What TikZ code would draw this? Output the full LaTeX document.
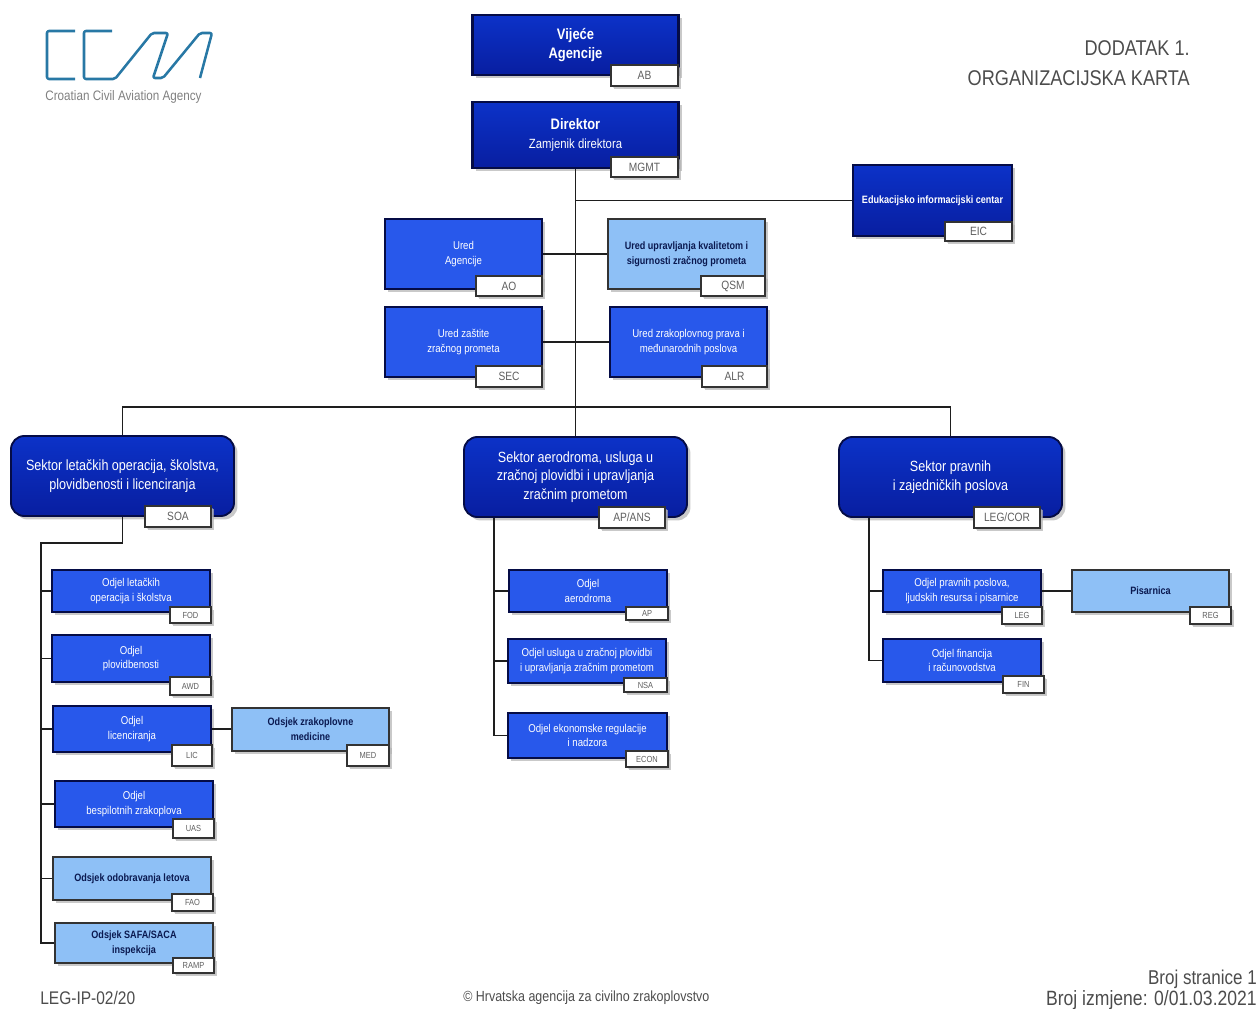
\documentclass[tikz,border=0pt]{standalone}
\usepackage{fontspec}
\setmainfont[FakeStretch=0.85]{Liberation Sans}
\usepackage{xcolor}
\definecolor{navyfill}{RGB}{12, 50, 200}
\definecolor{navydeep}{RGB}{8, 30, 160}
\definecolor{navyline}{RGB}{5, 12, 70}
\definecolor{deptfill}{RGB}{40, 88, 235}
\definecolor{lightfill}{RGB}{142, 192, 246}
\definecolor{lightink}{RGB}{10, 25, 80}
\definecolor{tagink}{RGB}{95, 95, 95}
\definecolor{logoblue}{RGB}{40, 120, 165}
\definecolor{wireink}{RGB}{30, 30, 30}
\usetikzlibrary{positioning, shadows}
\tikzset{boxsize/.style 2 args={minimum width=#1*0.75pt, minimum height=#2*0.75pt}}
\tikzstyle{boxbase} = [rectangle, draw=navyline, line width=1.1pt, inner sep=0pt, align=center, drop shadow={shadow xshift=2.6pt, shadow yshift=-2.6pt, fill=black!30, opacity=0.7}]
\tikzstyle{topblock} = [boxbase, top color=navyfill, bottom color=navydeep, text=white, line width=1.6pt, font=\fontsize{11.4}{14.5}\selectfont]
\tikzstyle{sector} = [boxbase, top color=navyfill, bottom color=navydeep, text=white, rounded corners=10pt, line width=1.4pt, font=\fontsize{11.1}{13.8}\selectfont]
\tikzstyle{office} = [boxbase, fill=deptfill, text=white, font=\fontsize{8.5}{11}\selectfont]
\tikzstyle{lightblock} = [boxbase, fill=lightfill, draw=black!80, text=lightink, font=\bfseries\fontsize{8}{11}\selectfont]
\tikzstyle{tagbox} = [boxbase, fill=white, draw=black!80, text=tagink, line width=0.9pt, drop shadow={shadow xshift=1.2pt, shadow yshift=-1.2pt, fill=black!25}]
\tikzstyle{bigtag} = [tagbox, font=\fontsize{9}{10}\selectfont]
\tikzstyle{smalltag} = [tagbox, font=\fontsize{6.6}{8}\selectfont]
\tikzstyle{wire} = [line width=1.1pt, draw=wireink]
\tikzstyle{pagetext} = [inner sep=0pt, text=black!70]
\begin{document}
\begin{tikzpicture}[x=0.75pt, y=-0.75pt]
    \useasboundingbox (0,0) rectangle (1258,1009);

    % logo
    \draw[logoblue, line width=1.9pt, line join=round, rounded corners=1.5pt] (75,31) -- (47,31) -- (47,79) -- (75,79);
    \draw[logoblue, line width=1.9pt, line join=round, rounded corners=1.5pt] (112,31) -- (84,31) -- (84,79) -- (115,79) -- (152,33) -- (168,33) -- (153,78) -- (163,78) -- (200,33) -- (212,33) -- (200,78);
    \node[pagetext, text=black!50, font=\fontsize{10.3}{12}\selectfont] (agency) at (123.5,97) {Croatian Civil Aviation Agency};

    % page texts
    \node[pagetext, anchor=east, font=\fontsize{16}{18}\selectfont] (annex) at (1190,48) {DODATAK 1.};
    \node[pagetext, anchor=east, font=\fontsize{16}{18}\selectfont] (chart) at (1190,78) {ORGANIZACIJSKA KARTA};
    \node[pagetext, anchor=west, font=\fontsize{13.7}{15}\selectfont] (docref) at (40,998) {LEG-IP-02/20};
    \node[pagetext, anchor=west, font=\fontsize{11}{13}\selectfont] (rights) at (463,998) {© Hrvatska agencija za civilno zrakoplovstvo};
    \node[pagetext, anchor=east, font=\fontsize{15}{17}\selectfont] (pageno) at (1257,979) {Broj stranice 1};
    \node[pagetext, anchor=east, font=\fontsize{15.5}{17}\selectfont] (revno) at (1257,1000) {Broj izmjene: 0/01.03.2021};

    % top of the chart
    \node[topblock, boxsize={206}{60}] (board) at (575.5,45) {\textbf{Vijeće}\\\textbf{Agencije}};
    \node[topblock, boxsize={206}{66}] (mgmt) at (575.5,135) {\textbf{Direktor}\\{\fontsize{10}{13}\selectfont Zamjenik direktora}};
    \node[topblock, boxsize={159}{71}, font=\bfseries\fontsize{8}{10}\selectfont] (eic) at (932.5,200.5) {Edukacijsko informacijski centar};
    \node[office, boxsize={157}{70}] (ao) at (463.5,254) {Ured\\Agencije};
    \node[lightblock, boxsize={157}{70}] (qsm) at (686.5,254) {Ured upravljanja kvalitetom i\\sigurnosti zračnog prometa};
    \node[office, boxsize={157}{70}] (sec) at (463.5,342) {Ured zaštite\\zračnog prometa};
    \node[office, boxsize={157}{70}] (alr) at (688.5,342) {Ured zrakoplovnog prava i\\međunarodnih poslova};

    % sectors
    \node[sector, boxsize={223}{80}] (soa) at (122.5,476) {Sektor letačkih operacija, školstva,\\plovidbenosti i licenciranja};
    \node[sector, boxsize={223}{80}] (apans) at (575.5,477) {Sektor aerodroma, usluga u\\zračnoj plovidbi i upravljanja\\zračnim prometom};
    \node[sector, boxsize={223}{80}] (legcor) at (950.5,477) {Sektor pravnih\\i zajedničkih poslova};

    % first sector
    \node[office, boxsize={158}{42}] (fod) at (131,591) {Odjel letačkih\\operacija i školstva};
    \node[office, boxsize={158}{47}] (awd) at (131,658.5) {Odjel\\plovidbenosti};
    \node[office, boxsize={158}{46}] (lic) at (132,729) {Odjel\\licenciranja};
    \node[lightblock, boxsize={157}{43}] (med) at (310.5,729.5) {Odsjek zrakoplovne\\medicine};
    \node[office, boxsize={158}{46}] (uas) at (134,804) {Odjel\\bespilotnih zrakoplova};
    \node[lightblock, boxsize={158}{43}] (fao) at (132,878.5) {Odsjek odobravanja letova};
    \node[lightblock, boxsize={158}{40}] (ramp) at (134,943) {Odsjek SAFA/SACA\\inspekcija};

    % second sector
    \node[office, boxsize={158}{42}] (ap) at (588,591) {Odjel\\aerodroma};
    \node[office, boxsize={158}{44}] (nsa) at (587,661) {Odjel usluga u zračnoj plovidbi\\i upravljanja zračnim prometom};
    \node[office, boxsize={159}{45}] (econ) at (587.5,735.5) {Odjel ekonomske regulacije\\i nadzora};

    % third sector
    \node[office, boxsize={158}{42}] (leg) at (962,591) {Odjel pravnih poslova,\\ljudskih resursa i pisarnice};
    \node[lightblock, boxsize={157}{42}] (reg) at (1150.5,591) {Pisarnica};
    \node[office, boxsize={158}{43}] (fin) at (962,660.5) {Odjel financija\\i računovodstva};

    % tags
    \node[bigtag, boxsize={67}{21}] (tagboard) at (644.5,75.5) {AB};
    \node[bigtag, boxsize={67}{20}] (tagmgmt) at (644.5,167) {MGMT};
    \node[bigtag, boxsize={67}{19}] (tageic) at (978.5,231.5) {EIC};
    \node[bigtag, boxsize={66}{20}] (tagao) at (509,286) {AO};
    \node[bigtag, boxsize={64}{20}] (tagqsm) at (733,286) {QSM};
    \node[bigtag, boxsize={66}{21}] (tagsec) at (509,376.5) {SEC};
    \node[bigtag, boxsize={65}{21}] (tagalr) at (734.5,376.5) {ALR};
    \node[bigtag, boxsize={66}{21}] (tagsoa) at (178,516.5) {SOA};
    \node[bigtag, boxsize={66}{21}] (tagapans) at (632,517.5) {AP/ANS};
    \node[bigtag, boxsize={66}{21}] (taglegcor) at (1007,517.5) {LEG/COR};
    \node[smalltag, boxsize={41}{16}] (tagfod) at (190.5,615) {FOD};
    \node[smalltag, boxsize={41}{18}] (tagawd) at (190.5,686) {AWD};
    \node[smalltag, boxsize={40}{21}] (taglic) at (192,755.5) {LIC};
    \node[smalltag, boxsize={42}{21}] (tagmed) at (368,755.5) {MED};
    \node[smalltag, boxsize={41}{19}] (taguas) at (193.5,828.5) {UAS};
    \node[smalltag, boxsize={41}{17}] (tagfao) at (192.5,902.5) {FAO};
    \node[smalltag, boxsize={41}{15}] (tagramp) at (193.5,965.5) {RAMP};
    \node[smalltag, boxsize={42}{13}] (tagap) at (647,613.5) {AP};
    \node[smalltag, boxsize={43}{14}] (tagnsa) at (645.5,685) {NSA};
    \node[smalltag, boxsize={42}{16}] (tagecon) at (647,759) {ECON};
    \node[smalltag, boxsize={40}{17}] (tagleg) at (1022,615.5) {LEG};
    \node[smalltag, boxsize={41}{17}] (tagreg) at (1210.5,615.5) {REG};
    \node[smalltag, boxsize={41}{17}] (tagfin) at (1023.5,684.5) {FIN};

    % connectors
    \coordinate (busline) at (575.5,407);
    \coordinate (soaspine) at (41,543);
    \coordinate (apspine) at (494,735.5);
    \coordinate (legspine) at (869,660.5);
    \draw[wire] (mgmt.south) -- (apans.north);
    \draw[wire] (soa.north) |- (busline) -| (legcor.north);
    \draw[wire] (eic.west) -- (eic.west -| mgmt.south);
    \draw[wire] (ao) -- (qsm);
    \draw[wire] (sec) -- (alr);
    \draw[wire] (soa.south) |- (soaspine) |- (ramp.west);
    \draw[wire] (fod.west) -- (fod.west -| soaspine);
    \draw[wire] (awd.west) -- (awd.west -| soaspine);
    \draw[wire] (lic.west) -- (lic.west -| soaspine);
    \draw[wire] (uas.west) -- (uas.west -| soaspine);
    \draw[wire] (fao.west) -- (fao.west -| soaspine);
    \draw[wire] (lic.east) -- (lic.east -| med.west);
    \draw[wire] (apans.south -| apspine) -- (apspine) -- (econ.west);
    \draw[wire] (ap.west) -- (ap.west -| apspine);
    \draw[wire] (nsa.west) -- (nsa.west -| apspine);
    \draw[wire] (legcor.south -| legspine) -- (legspine) -- (fin.west);
    \draw[wire] (leg.west) -- (leg.west -| legspine);
    \draw[wire] (leg) -- (reg);
\end{tikzpicture}
\end{document}
